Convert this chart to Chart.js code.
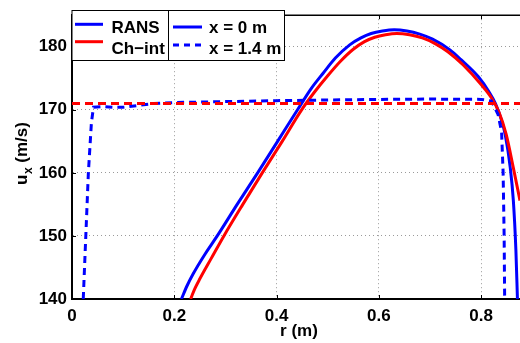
<!DOCTYPE html>
<html>
<head>
<meta charset="utf-8">
<script src="https://cdn.jsdelivr.net/npm/chart.js@4/dist/chart.umd.min.js"></script>
<style>
  html, body { margin: 0; padding: 0; background: #fff; overflow: hidden; }
  #wrap { width: 520px; height: 343px; position: relative; }
</style>
</head>
<body>
<div id="wrap"><canvas id="c"></canvas></div>
<script>
// axis ticks
const xTicks = [0, 0.2, 0.4, 0.6, 0.8];
const yTicks = [140, 150, 160, 170, 180];

// RANS, x = 0 m (solid blue)
const rRans0 = [0.214, 0.225, 0.237, 0.260, 0.284, 0.323, 0.363, 0.402, 0.441, 0.468, 0.491, 0.515, 0.543, 0.565, 0.585, 0.607, 0.630, 0.655, 0.680, 0.705, 0.739, 0.760, 0.795, 0.815, 0.828, 0.838, 0.847, 0.857, 0.863, 0.868, 0.871];
const uRans0 = [140, 142.1, 144, 147.1, 150, 155, 160, 165, 170, 173.4, 175.8, 178.2, 180.3, 181.4, 182.1, 182.5, 182.7, 182.5, 182.0, 181.2, 179.5, 178.0, 175.2, 172.9, 171.0, 168.8, 166.1, 160.8, 155.6, 147.7, 140];

// Ch-int, x = 0 m (solid red)
const rCh0 = [0.232, 0.240, 0.250, 0.272, 0.297, 0.334, 0.372, 0.411, 0.449, 0.475, 0.500, 0.525, 0.550, 0.572, 0.592, 0.613, 0.635, 0.660, 0.685, 0.710, 0.735, 0.765, 0.800, 0.820, 0.835, 0.849, 0.863, 0.876];
const uCh0 = [140, 141.6, 143.2, 146.4, 150, 155, 160, 165, 170, 172.9, 175.4, 177.7, 179.6, 180.8, 181.5, 181.9, 182.1, 181.9, 181.4, 180.5, 179.2, 177.1, 174.0, 171.9, 169.6, 166.1, 160.8, 155.6];

// RANS, x = 1.4 m (dashed blue)
const rRans14 = [0.022, 0.027, 0.032, 0.038, 0.042, 0.060, 0.080, 0.100, 0.130, 0.160, 0.200, 0.300, 0.400, 0.500, 0.600, 0.700, 0.800, 0.820, 0.833, 0.840, 0.843, 0.845, 0.846];
const uRans14 = [140, 150, 160, 168, 170.4, 170.5, 170.4, 170.4, 170.7, 171.0, 171.15, 171.3, 171.45, 171.55, 171.65, 171.7, 171.65, 171.4, 169.3, 166.5, 160, 150, 140];

// Ch-int, x = 1.4 m (dashed red)
const rCh14 = [0, 0.2, 0.4, 0.6, 0.8, 0.876];
const uCh14 = [171, 171, 171, 171, 171, 171];

const pts = (rs, us) => rs.map((r, i) => ({ x: r, y: us[i] }));
const FONT = '"Liberation Sans", Arial, sans-serif';
const BLUE = '#0000ff';
const RED = '#ff0000';

// box, inward ticks, axis titles and the two legend boxes
const frame = {
  id: 'frame',
  afterDraw(chart) {
    const { ctx, chartArea: a, scales: { x, y } } = chart;
    ctx.save();
    ctx.strokeStyle = '#000';
    ctx.lineWidth = 1.5;
    ctx.beginPath();
    ctx.moveTo(a.left, a.top);
    ctx.lineTo(a.right, a.top);
    ctx.stroke();

    ctx.lineWidth = 1;
    ctx.beginPath();
    xTicks.forEach(v => {
      const px = Math.round(x.getPixelForValue(v)) + 0.5;
      ctx.moveTo(px, a.bottom); ctx.lineTo(px, a.bottom - 4);
      ctx.moveTo(px, a.top); ctx.lineTo(px, a.top + 4);
    });
    yTicks.forEach(v => {
      const py = Math.round(y.getPixelForValue(v)) + 0.5;
      ctx.moveTo(a.left, py); ctx.lineTo(a.left + 4, py);
    });
    ctx.stroke();

    // axis titles
    ctx.fillStyle = '#000';
    ctx.font = 'bold 17px ' + FONT;
    ctx.textAlign = 'center';
    ctx.textBaseline = 'alphabetic';
    ctx.fillText('r (m)', 299, 335.5);

    ctx.save();
    ctx.translate(26.5, 185);
    ctx.rotate(-Math.PI / 2);
    ctx.textAlign = 'left';
    ctx.font = 'bold 17px ' + FONT;
    const wu = ctx.measureText('u').width;
    ctx.fillText('u', 0, 0);
    ctx.font = 'bold 12px ' + FONT;
    const wx = ctx.measureText('x').width;
    ctx.fillText('x', wu + 0.5, 5);
    ctx.font = 'bold 17px ' + FONT;
    ctx.fillText(' (m/s)', wu + wx + 0.5, 0);
    ctx.restore();

    // legend boxes
    const boxes = [
      { x0: 72, x1: 168.5, items: [
        { text: 'RANS', color: BLUE, dash: [], ly: 24.3, ty: 32.5 },
        { text: 'Ch\u2212int', color: RED, dash: [], ly: 41.7, ty: 54 }
      ], lx0: 75, lx1: 103, tx: 111.5 },
      { x0: 168.5, x1: 284.5, items: [
        { text: 'x = 0 m', color: BLUE, dash: [], ly: 27, ty: 32.5 },
        { text: 'x = 1.4 m', color: BLUE, dash: [6, 5], ly: 45, ty: 54 }
      ], lx0: 173, lx1: 202, tx: 209 }
    ];
    boxes.forEach(b => {
      ctx.fillStyle = '#fff';
      ctx.fillRect(b.x0, 10.5, b.x1 - b.x0, 50);
      ctx.strokeStyle = '#000';
      ctx.lineWidth = 1;
      ctx.setLineDash([]);
      ctx.strokeRect(b.x0, 10.5, b.x1 - b.x0, 50);
      b.items.forEach(it => {
        ctx.strokeStyle = it.color;
        ctx.lineWidth = 3;
        ctx.setLineDash(it.dash);
        ctx.beginPath();
        ctx.moveTo(b.lx0, it.ly);
        ctx.lineTo(b.lx1, it.ly);
        ctx.stroke();
        ctx.setLineDash([]);
        ctx.fillStyle = '#000';
        ctx.font = 'bold 17px ' + FONT;
        ctx.textAlign = 'left';
        ctx.fillText(it.text, b.tx, it.ty);
      });
    });
    ctx.restore();
  }
};

new Chart(document.getElementById('c'), {
  type: 'scatter',
  data: {
    datasets: [
      { label: 'RANS x=0', data: pts(rRans0, uRans0), borderColor: BLUE, borderWidth: 3, showLine: true, pointRadius: 0, cubicInterpolationMode: 'monotone', order: 4 },
      { label: 'Ch-int x=0', data: pts(rCh0, uCh0), borderColor: RED, borderWidth: 3, showLine: true, pointRadius: 0, cubicInterpolationMode: 'monotone', order: 3 },
      { label: 'RANS x=1.4', data: pts(rRans14, uRans14), borderColor: BLUE, borderWidth: 3, borderDash: [7, 5], showLine: true, pointRadius: 0, tension: 0, order: 2 },
      { label: 'Ch-int x=1.4', data: pts(rCh14, uCh14), borderColor: RED, borderWidth: 3, borderDash: [8, 5], showLine: true, pointRadius: 0, tension: 0, order: 1 }
    ]
  },
  options: {
    responsive: true,
    maintainAspectRatio: false,
    animation: false,
    layout: { padding: { top: 10, right: 0, left: 0, bottom: 0 } },
    plugins: { legend: { display: false }, tooltip: { enabled: false } },
    scales: {
      x: {
        type: 'linear',
        min: 0,
        max: 0.876,
        afterBuildTicks: s => { s.ticks = xTicks.map(v => ({ value: v })); },
        afterFit: s => { s.height = 44; },
        grid: { color: '#9a9a9a', lineWidth: 1, drawTicks: false },
        border: { display: true, color: '#000', width: 2, dash: [1, 3] },
        ticks: {
          padding: 7,
          color: '#000',
          font: { family: FONT, size: 17, weight: 'bold' },
          callback: v => (v === 0 ? '0' : v.toFixed(1))
        }
      },
      y: {
        type: 'linear',
        min: 140,
        max: 185,
        afterBuildTicks: s => { s.ticks = yTicks.map(v => ({ value: v })); },
        afterFit: s => { s.width = 72; },
        grid: { color: '#9a9a9a', lineWidth: 1, drawTicks: false },
        border: { display: true, color: '#000', width: 2, dash: [1, 3] },
        ticks: {
          padding: 5,
          color: '#000',
          font: { family: FONT, size: 17, weight: 'bold' },
          callback: v => String(v)
        }
      }
    }
  },
  plugins: [frame]
});
</script>
</body>
</html>
